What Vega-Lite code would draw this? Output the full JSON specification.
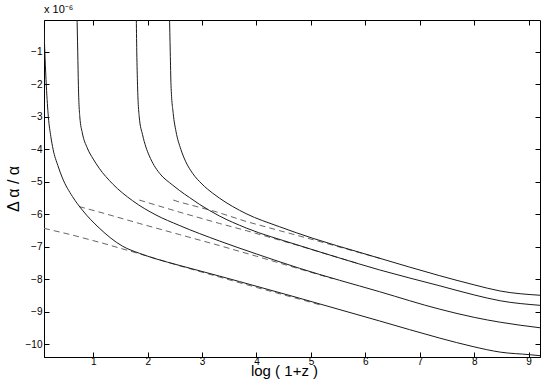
{
  "$schema": "https://vega.github.io/schema/vega-lite/v6.json",
  "autosize": {"type": "none"},
  "width": 496,
  "height": 337,
  "padding": {"left": 44, "top": 20, "right": 5, "bottom": 25},
  "background": "white",
  "config": {
    "view": {"stroke": "black", "strokeWidth": 1},
    "axis": {
      "grid": false,
      "domainColor": "black",
      "tickColor": "black",
      "tickSize": -5,
      "labelColor": "black",
      "labelFont": "Liberation Sans",
      "labelFontSize": 10,
      "titleFont": "Liberation Sans",
      "titleColor": "black",
      "titleFontWeight": "normal"
    }
  },
  "title": {
    "text": "x 10⁻⁶",
    "anchor": "start",
    "frame": "group",
    "font": "Liberation Sans",
    "fontSize": 11,
    "fontWeight": "normal",
    "color": "black",
    "offset": 5
  },
  "datasets": {
    "solid": [
      {"s": "c1", "x": 0.095, "y": -0.3},
      {"s": "c1", "x": 0.115, "y": -1.2},
      {"s": "c1", "x": 0.138, "y": -2.05},
      {"s": "c1", "x": 0.175, "y": -3.0},
      {"s": "c1", "x": 0.22, "y": -3.6},
      {"s": "c1", "x": 0.262, "y": -4.0},
      {"s": "c1", "x": 0.35, "y": -4.5},
      {"s": "c1", "x": 0.433, "y": -4.88},
      {"s": "c1", "x": 0.617, "y": -5.45},
      {"s": "c1", "x": 0.8, "y": -5.87},
      {"s": "c1", "x": 1.109, "y": -6.42},
      {"s": "c1", "x": 1.538, "y": -6.98},
      {"s": "c1", "x": 1.85, "y": -7.2},
      {"s": "c1", "x": 2.153, "y": -7.37},
      {"s": "c1", "x": 2.58, "y": -7.57},
      {"s": "c1", "x": 3.318, "y": -7.9},
      {"s": "c1", "x": 3.69, "y": -8.07},
      {"s": "c1", "x": 4.79, "y": -8.58},
      {"s": "c1", "x": 6.26, "y": -9.28},
      {"s": "c1", "x": 7.37, "y": -9.81},
      {"s": "c1", "x": 7.98, "y": -10.07},
      {"s": "c1", "x": 8.48, "y": -10.24},
      {"s": "c1", "x": 9.03, "y": -10.32},
      {"s": "c1", "x": 9.21, "y": -10.35},
      {"s": "c2", "x": 0.7, "y": 0.2},
      {"s": "c2", "x": 0.715, "y": -1.0},
      {"s": "c2", "x": 0.727, "y": -2.03},
      {"s": "c2", "x": 0.753, "y": -3.0},
      {"s": "c2", "x": 0.8, "y": -3.5},
      {"s": "c2", "x": 0.888, "y": -3.95},
      {"s": "c2", "x": 1.0, "y": -4.3},
      {"s": "c2", "x": 1.109, "y": -4.58},
      {"s": "c2", "x": 1.354, "y": -5.06},
      {"s": "c2", "x": 1.722, "y": -5.58},
      {"s": "c2", "x": 2.153, "y": -6.02},
      {"s": "c2", "x": 2.58, "y": -6.34},
      {"s": "c2", "x": 3.318, "y": -6.82},
      {"s": "c2", "x": 4.0, "y": -7.22},
      {"s": "c2", "x": 4.79, "y": -7.66},
      {"s": "c2", "x": 6.26, "y": -8.38},
      {"s": "c2", "x": 7.37, "y": -8.92},
      {"s": "c2", "x": 8.0, "y": -9.17},
      {"s": "c2", "x": 8.48, "y": -9.32},
      {"s": "c2", "x": 9.21, "y": -9.49},
      {"s": "c3", "x": 1.79, "y": 0.2},
      {"s": "c3", "x": 1.8, "y": -1.0},
      {"s": "c3", "x": 1.814, "y": -2.03},
      {"s": "c3", "x": 1.845, "y": -3.0},
      {"s": "c3", "x": 1.906, "y": -3.55},
      {"s": "c3", "x": 1.968, "y": -3.93},
      {"s": "c3", "x": 2.03, "y": -4.2},
      {"s": "c3", "x": 2.12, "y": -4.5},
      {"s": "c3", "x": 2.22, "y": -4.74},
      {"s": "c3", "x": 2.459, "y": -5.1},
      {"s": "c3", "x": 2.58, "y": -5.26},
      {"s": "c3", "x": 2.766, "y": -5.48},
      {"s": "c3", "x": 2.95, "y": -5.69},
      {"s": "c3", "x": 3.318, "y": -6.05},
      {"s": "c3", "x": 3.81, "y": -6.42},
      {"s": "c3", "x": 4.73, "y": -6.93},
      {"s": "c3", "x": 5.5, "y": -7.33},
      {"s": "c3", "x": 6.26, "y": -7.71},
      {"s": "c3", "x": 7.37, "y": -8.2},
      {"s": "c3", "x": 8.0, "y": -8.48},
      {"s": "c3", "x": 8.48, "y": -8.66},
      {"s": "c3", "x": 9.21, "y": -8.8},
      {"s": "c4", "x": 2.4, "y": 0.2},
      {"s": "c4", "x": 2.415, "y": -1.0},
      {"s": "c4", "x": 2.429, "y": -2.03},
      {"s": "c4", "x": 2.47, "y": -2.9},
      {"s": "c4", "x": 2.521, "y": -3.45},
      {"s": "c4", "x": 2.61, "y": -4.0},
      {"s": "c4", "x": 2.7, "y": -4.38},
      {"s": "c4", "x": 2.827, "y": -4.74},
      {"s": "c4", "x": 3.0, "y": -5.07},
      {"s": "c4", "x": 3.195, "y": -5.35},
      {"s": "c4", "x": 3.318, "y": -5.5},
      {"s": "c4", "x": 3.81, "y": -5.98},
      {"s": "c4", "x": 4.42, "y": -6.38},
      {"s": "c4", "x": 5.04, "y": -6.74},
      {"s": "c4", "x": 5.896, "y": -7.17},
      {"s": "c4", "x": 6.26, "y": -7.35},
      {"s": "c4", "x": 7.37, "y": -7.89},
      {"s": "c4", "x": 8.0, "y": -8.17},
      {"s": "c4", "x": 8.48, "y": -8.36},
      {"s": "c4", "x": 9.21, "y": -8.49}
    ],
    "dashed": [
      {"s": "d1", "x": 0.095, "y": -6.43},
      {"s": "d1", "x": 0.6, "y": -6.63},
      {"s": "d1", "x": 1.158, "y": -6.88},
      {"s": "d1", "x": 1.8, "y": -7.19},
      {"s": "d1", "x": 2.58, "y": -7.58},
      {"s": "d1", "x": 3.318, "y": -7.93},
      {"s": "d1", "x": 4.0, "y": -8.25},
      {"s": "d1", "x": 4.79, "y": -8.61},
      {"s": "d1", "x": 5.2, "y": -8.8},
      {"s": "d2", "x": 0.74, "y": -5.76},
      {"s": "d2", "x": 1.2, "y": -5.97},
      {"s": "d2", "x": 1.845, "y": -6.28},
      {"s": "d2", "x": 2.58, "y": -6.62},
      {"s": "d2", "x": 3.318, "y": -6.96},
      {"s": "d2", "x": 4.0, "y": -7.29},
      {"s": "d2", "x": 4.79, "y": -7.68},
      {"s": "d2", "x": 5.4, "y": -7.98},
      {"s": "d3", "x": 1.845, "y": -5.56},
      {"s": "d3", "x": 2.58, "y": -5.93},
      {"s": "d3", "x": 3.318, "y": -6.28},
      {"s": "d3", "x": 3.81, "y": -6.5},
      {"s": "d3", "x": 4.73, "y": -6.94},
      {"s": "d3", "x": 5.5, "y": -7.33},
      {"s": "d3", "x": 5.9, "y": -7.53},
      {"s": "d4", "x": 2.47, "y": -5.56},
      {"s": "d4", "x": 2.58, "y": -5.62},
      {"s": "d4", "x": 3.258, "y": -5.92},
      {"s": "d4", "x": 3.81, "y": -6.22},
      {"s": "d4", "x": 4.42, "y": -6.5},
      {"s": "d4", "x": 5.04, "y": -6.78},
      {"s": "d4", "x": 5.896, "y": -7.18},
      {"s": "d4", "x": 6.3, "y": -7.37}
    ]
  },
  "layer": [
    {
      "data": {"name": "dashed"},
      "mark": {"type": "line", "clip": true, "color": "#666666", "strokeWidth": 1, "strokeDash": [6, 4]},
      "encoding": {
        "x": {"field": "x", "type": "quantitative",
              "scale": {"domain": [0.095, 9.21], "nice": false, "zero": false},
              "axis": {"orient": "top", "values": [1,2,3,4,5,6,7,8,9], "labels": false, "title": null, "domain": false}},
        "y": {"field": "y", "type": "quantitative",
              "scale": {"domain": [-10.39, -0.02], "nice": false, "zero": false},
              "axis": {"orient": "right", "values": [-10,-9,-8,-7,-6,-5,-4,-3,-2,-1], "labels": false, "title": null, "domain": false}},
        "detail": {"field": "s"}
      }
    },
    {
      "data": {"name": "solid"},
      "mark": {"type": "line", "clip": true, "color": "#1a1a1a", "strokeWidth": 1, "interpolate": "monotone"},
      "encoding": {
        "x": {"field": "x", "type": "quantitative",
              "axis": {"orient": "bottom", "values": [1,2,3,4,5,6,7,8,9], "title": "log ( 1+z )", "titleFontSize": 15, "titleY": 18, "titleBaseline": "alphabetic", "labelPadding": 4, "titleX": 240, "titleAnchor": "middle"}},
        "y": {"field": "y", "type": "quantitative",
              "axis": {"orient": "left", "values": [-10,-9,-8,-7,-6,-5,-4,-3,-2,-1], "title": "Δ α / α", "titleFontSize": 16, "titlePadding": 4, "labelPadding": 7}},
        "detail": {"field": "s"}
      }
    }
  ],
  "resolve": {"axis": {"x": "independent", "y": "independent"}}
}
